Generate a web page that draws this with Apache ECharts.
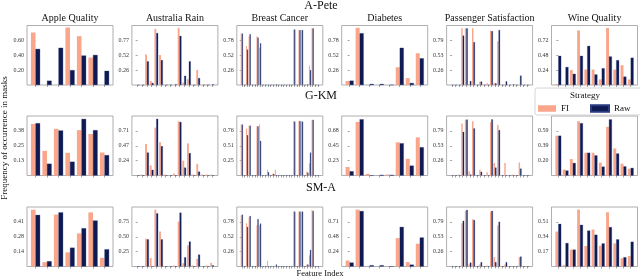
<!DOCTYPE html>
<html><head><meta charset="utf-8">
<script src="https://cdn.jsdelivr.net/npm/echarts@6/dist/echarts.min.js"></script>
<style>html,body{margin:0;padding:0;background:#fff}#c{width:640px;height:278px}</style>
</head><body><div id="c"></div>
<script>
const datasets = ['Apple Quality', 'Australia Rain', 'Breast Cancer', 'Diabetes', 'Passenger Satisfaction', 'Wine Quality'];
const strategies = ['A-Pete', 'G-KM', 'SM-A'];
const featureCounts = [7, 17, 30, 8, 22, 11];
const yMaxAPete = [0.80, 1.03, 1.04, 1.04, 1.05, 0.96];
const yMaxGKM = [0.505, 0.945, 1.015, 0.905, 1.05, 0.785];
const yMaxSMA = [0.55, 1.0, 1.04, 0.952, 1.05, 0.68];

// Apple Quality
const appleFI_APete = [0.706, 0, 0, 0.773, 0.656, 0.369, 0];
const appleRaw_APete = [0.485, 0.058, 0.50, 0.20, 0.396, 0.404, 0.19];
const appleFI_GKM = [0.438, 0.209, 0.396, 0.192, 0.385, 0.352, 0.195];
const appleRaw_GKM = [0.444, 0.10, 0.382, 0.117, 0.48, 0.385, 0.173];
const appleFI_SMA = [0.525, 0.04, 0.48, 0.131, 0.306, 0.50, 0.08];
const appleRaw_SMA = [0.477, 0.049, 0.50, 0.174, 0.354, 0.425, 0.159];
// Australia Rain
const ausFI_APete = [0, 0, 0.53, 0.07, 0.97, 0.52, 0, 0, 0, 0.99, 0.04, 0.10, 0, 0.26, 0, 0.012, 0];
const ausRaw_APete = [0, 0, 0.41, 0.035, 0.90, 0.43, 0, 0, 0.012, 0.85, 0.16, 0.41, 0, 0.12, 0, 0, 0.012];
const ausFI_GKM = [0, 0.016, 0.50, 0.16, 0.76, 0.53, 0.016, 0, 0.03, 0.86, 0.235, 0.51, 0.016, 0.185, 0.016, 0.016, 0.016];
const ausRaw_GKM = [0, 0, 0.365, 0.09, 0.90, 0.465, 0, 0, 0, 0.85, 0.125, 0.355, 0, 0.06, 0, 0, 0];
const ausFI_SMA = [0, 0, 0.467, 0.144, 0.955, 0.589, 0, 0, 0.017, 0.755, 0.055, 0.355, 0.017, 0.128, 0, 0.017, 0.06];
const ausRaw_SMA = [0, 0, 0.455, 0, 0.894, 0.455, 0, 0, 0, 0.905, 0.155, 0.42, 0, 0.2, 0, 0, 0.02];
// Breast Cancer
const breastFI_APete = [0.90,0,0.68,0.85,0,0,0.85,0.65,0,0,0,0,0,0,0,0,0,0,0,0,0.97,0,0.96,0.96,0,0,0.34,0.99,0,0];
const breastRaw_APete = [0.90,0,0.62,0.89,0,0,0.83,0.73,0,0,0,0,0,0.012,0,0,0,0,0,0,0.97,0,0.96,0.96,0,0.012,0.26,0.99,0,0];
const breastFI_GKM = [0.87,0,0.80,0.85,0,0,0.84,0.87,0,0,0.10,0,0.03,0.10,0,0,0,0,0,0,0.93,0,0.93,0.92,0,0.067,0.21,0.95,0,0];
const breastRaw_GKM = [0.87,0,0.69,0.85,0,0,0.84,0.59,0,0,0.056,0,0.03,0,0,0,0,0,0,0,0.92,0,0.93,0.92,0,0.05,0.39,0.95,0,0];
const breastFI_SMA = [0.895,0,0.757,0.867,0,0,0.72,0.72,0,0,0.10,0,0,0,0,0,0,0,0,0,0.96,0,0.96,0.96,0,0.035,0.196,0.99,0,0];
const breastRaw_SMA = [0.907,0,0.693,0.884,0,0,0.83,0.75,0,0,0,0,0,0.035,0,0,0,0,0,0,0.96,0,0.96,0.96,0,0.035,0.29,0.97,0,0];
// Diabetes
const diabFI_APete = [0.07, 1.0, 0, 0, 0, 0.31, 0.12, 0.555];
const diabRaw_APete = [0.076, 0.905, 0.018, 0.018, 0, 0.65, 0.035, 0.467];
const diabFI_GKM = [0.13, 0.815, 0.025, 0, 0.015, 0.505, 0.255, 0.58];
const diabRaw_GKM = [0.065, 0.855, 0, 0.01, 0.01, 0.49, 0.15, 0.43];
const diabFI_SMA = [0.095, 0.91, 0, 0, 0, 0.454, 0.07, 0.364];
const diabRaw_SMA = [0.063, 0.887, 0.02, 0.02, 0, 0.633, 0.03, 0.464];
// Passenger Satisfaction
const passFI_APete = [0,0,0,1.0,1.0,0.01,1.0,0,0.06,0,0.03,0.96,0.03,0.77,0,0.01,0,0,0,0,0,0];
const passRaw_APete = [0,0,0,0.87,1.0,0.07,0.755,0,0.06,0,0,0.95,0.03,0.97,0,0.065,0,0.012,0,0.165,0,0];
const passFI_GKM = [0,0,0.016,0.917,0.986,0.075,0.957,0,0.10,0,0.058,0.94,0.22,0.89,0,0.22,0,0.016,0,0.23,0,0];
const passRaw_GKM = [0,0,0,0.77,0.986,0.017,0.83,0,0.064,0,0,0.99,0.14,0.80,0,0,0,0,0,0.12,0,0];
const passFI_SMA = [0,0,0,0.764,0.98,0.035,0.834,0,0.035,0,0.017,0.968,0.163,0.723,0,0.035,0,0,0,0.163,0,0];
const passRaw_SMA = [0,0,0,0.805,1.0,0.07,0.82,0,0.076,0,0,0.98,0.076,0.79,0,0.076,0,0,0,0.175,0,0];
// Wine Quality
const wineFI_APete = [0.016, 0, 0.24, 0.88, 0.25, 0.25, 0.09, 0.92, 0.25, 0.32, 0.09];
const wineRaw_APete = [0.47, 0.29, 0.18, 0.47, 0.63, 0.17, 0.27, 0.46, 0.40, 0.135, 0.44];
const wineFI_GKM = [0.525, 0.078, 0.217, 0.716, 0.30, 0.30, 0.17, 0.642, 0.356, 0.156, 0.09];
const wineRaw_GKM = [0.525, 0.065, 0.165, 0.69, 0.30, 0.265, 0.117, 0.74, 0.29, 0.12, 0.10];
const wineFI_SMA = [0.40, 0.015, 0.193, 0.65, 0.234, 0.423, 0.238, 0.62, 0.264, 0.094, 0.12];
const wineRaw_SMA = [0.487, 0.268, 0.193, 0.476, 0.41, 0.363, 0.264, 0.45, 0.31, 0.106, 0.283];

const panelFI = [
  [appleFI_APete, ausFI_APete, breastFI_APete, diabFI_APete, passFI_APete, wineFI_APete],
  [appleFI_GKM, ausFI_GKM, breastFI_GKM, diabFI_GKM, passFI_GKM, wineFI_GKM],
  [appleFI_SMA, ausFI_SMA, breastFI_SMA, diabFI_SMA, passFI_SMA, wineFI_SMA]
];
const panelRaw = [
  [appleRaw_APete, ausRaw_APete, breastRaw_APete, diabRaw_APete, passRaw_APete, wineRaw_APete],
  [appleRaw_GKM, ausRaw_GKM, breastRaw_GKM, diabRaw_GKM, passRaw_GKM, wineRaw_GKM],
  [appleRaw_SMA, ausRaw_SMA, breastRaw_SMA, diabRaw_SMA, passRaw_SMA, wineRaw_SMA]
];
const yMax = [yMaxAPete, yMaxGKM, yMaxSMA];

const FI_COLOR = '#f9a68b';
const RAW_COLOR = '#0f1a52';
const FONT = 'Liberation Serif';
const gridLeft0 = 27, gridStep = 104.9, gridW = 86, gridH = 59.5;
const rowTops = [25.5, 116, 207];
const rowTitleY = [6, 96, 188];

const grids = [], xAxes = [], yAxes = [], series = [], graphics = [];
for (let r = 0; r < 3; r++) {
  for (let c = 0; c < 6; c++) {
    const k = r * 6 + c;
    const N = featureCounts[c];
    const pad = 0.4 + 0.05 * (N - 0.2);
    const unit = gridW / ((N - 0.2) * 1.1);
    const M = yMax[r][c];
    const yt = [M / 4, M / 2, 3 * M / 4];
    const xt = Array.from({length: N}, (_, i) => i);
    grids.push({left: gridLeft0 + gridStep * c, top: rowTops[r], width: gridW, height: gridH,
      show: true, borderColor: '#9a9a9a', borderWidth: 0.8, backgroundColor: 'transparent'});
    xAxes.push({gridIndex: k, type: 'value', min: -pad, max: N - 1 + pad,
      axisLine: {show: false}, splitLine: {show: false},
      axisLabel: {show: false},
      axisTick: {show: true, customValues: xt, length: 2, lineStyle: {color: '#666', width: 0.6}}});
    yAxes.push({gridIndex: k, type: 'value', min: 0, max: M,
      axisLine: {show: false}, splitLine: {show: false},
      axisTick: {show: true, customValues: yt, length: 2, lineStyle: {color: '#666', width: 0.6}},
      axisLabel: {customValues: yt, formatter: v => Number(v).toFixed(2), fontSize: 6, color: '#333', fontFamily: FONT, margin: 3}});
    const fi = panelFI[r][c], raw = panelRaw[r][c];
    series.push({type: 'bar', name: 'FI', xAxisIndex: k, yAxisIndex: k,
      data: fi.map((v, i) => [i, v]), barWidth: 0.4 * unit, barGap: '0%',
      itemStyle: {color: FI_COLOR}, silent: true});
    series.push({type: 'bar', name: 'Raw', xAxisIndex: k, yAxisIndex: k,
      data: raw.map((v, i) => [i, v]), barWidth: 0.4 * unit, barGap: '0%',
      itemStyle: {color: RAW_COLOR, borderColor: '#2a3a80', borderWidth: 0.3}, silent: true});
    if (r === 0) {
      graphics.push({type: 'text', x: gridLeft0 + gridStep * c + gridW / 2, y: 18,
        style: {text: datasets[c], fontSize: 10, fontFamily: FONT, fill: '#111', textAlign: 'center', textVerticalAlign: 'middle'}});
    }
  }
  graphics.push({type: 'text', x: 321, y: rowTitleY[r],
    style: {text: strategies[r], fontSize: 12, fontFamily: FONT, fill: '#111', textAlign: 'center', textVerticalAlign: 'middle'}});
}
graphics.push({type: 'text', x: 5, y: 138, rotation: Math.PI / 2,
  style: {text: 'Frequency of occurrence in masks', fontSize: 9, fontFamily: FONT, fill: '#111', textAlign: 'center', textVerticalAlign: 'middle'}});
graphics.push({type: 'text', x: 320, y: 274,
  style: {text: 'Feature Index', fontSize: 8.5, fontFamily: FONT, fill: '#111', textAlign: 'center', textVerticalAlign: 'middle'}});
graphics.push({type: 'rect', shape: {x: 535, y: 88, width: 110, height: 27, r: 2}, z: 10,
  style: {fill: 'rgba(255,255,255,0.85)', stroke: '#cccccc', lineWidth: 0.8}});
graphics.push({type: 'text', x: 585, y: 95.5, z: 11,
  style: {text: 'Strategy', fontSize: 9, fontFamily: FONT, fill: '#111', textAlign: 'center', textVerticalAlign: 'middle'}});

const chart = echarts.init(document.getElementById('c'), null, {renderer: 'canvas'});
chart.setOption({
  animation: false,
  grid: grids, xAxis: xAxes, yAxis: yAxes, series: series,
  legend: {data: ['FI', 'Raw'], left: 538, top: 104, itemWidth: 18, itemHeight: 6.5, itemGap: 21,
    icon: 'rect', padding: 0, z: 12, selectedMode: false,
    textStyle: {fontSize: 9, fontFamily: FONT, color: '#111', padding: [0, 0, 0, 0]}},
  graphic: graphics
});
</script></body></html>
